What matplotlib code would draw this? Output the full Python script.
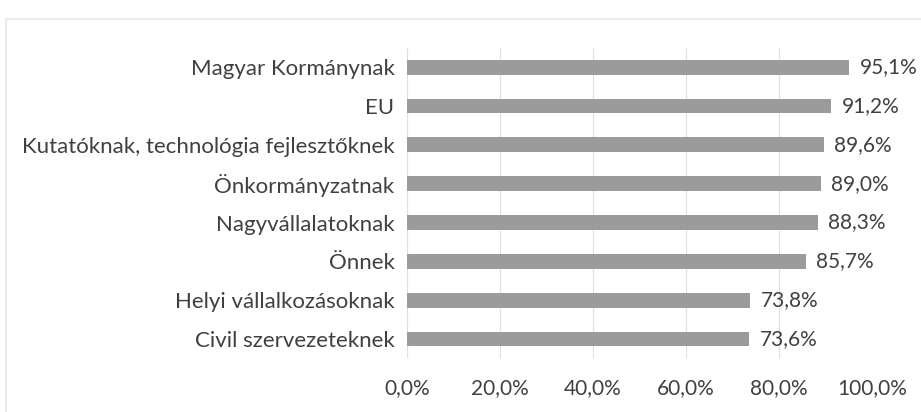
import numpy as np
import matplotlib.pyplot as plt
from matplotlib.patches import Rectangle

categories = ['Magyar Kormánynak', 'EU', 'Kutatóknak, technológia fejlesztőknek',
              'Önkormányzatnak', 'Nagyvállalatoknak', 'Önnek',
              'Helyi vállalkozásoknak', 'Civil szervezeteknek']
values = [95.1, 91.2, 89.6, 89.0, 88.3, 85.7, 73.8, 73.6]
xticks = [0, 20, 40, 60, 80, 100]

plt.rcParams['font.family'] = ['Lato', 'DejaVu Sans']

fig = plt.figure(figsize=(9.21, 4.12), dpi=100)
ax = fig.add_axes([0.442, 0.130, 0.505, 0.754])

y = np.arange(len(categories))[::-1]
ax.barh(y, values, height=0.38, color='#9b9b9b', zorder=3)
for yi, v in zip(y, values):
    ax.text(v + 2.2, yi, f"{v:.1f}%".replace('.', ','), va='center', ha='left',
            fontsize=15, color='#404040')

ax.set_xlim(0, 100)
ax.set_ylim(-0.5, len(categories) - 0.5)
ax.set_yticks(y)
ax.set_yticklabels(categories, fontsize=16, color='#404040')
ax.set_xticks(xticks)
ax.set_xticklabels([f"{t:.1f}%".replace('.', ',') for t in xticks], fontsize=15, color='#404040')
ax.tick_params(axis='both', length=0)
ax.tick_params(axis='x', pad=14)
ax.tick_params(axis='y', pad=9)
ax.grid(axis='x', color='#e0e0e0', linewidth=0.8, zorder=0)
ax.axvline(0, color='#d0d0d0', linewidth=0.8, zorder=1)
for s in ax.spines.values():
    s.set_visible(False)

fig.patches.append(Rectangle((0.007, -0.01), 1.0, 0.965, transform=fig.transFigure,
                             fill=False, edgecolor='#e6e6e6', linewidth=1.2))

fig.savefig('out.png', dpi=100)
